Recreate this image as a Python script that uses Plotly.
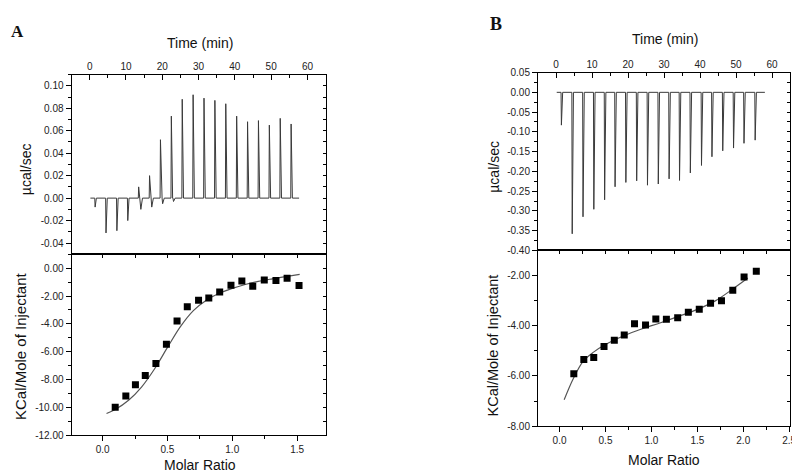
import plotly.graph_objects as go

# ---------------- Data: panel A ----------------
A_inj_time = [1.4, 4.4, 7.4, 10.4, 13.4, 16.4, 19.4, 22.4, 25.4, 28.4, 31.4, 34.4, 37.4, 40.4, 43.4, 46.4, 49.4, 52.4, 55.4]
A_inj_peak = [-0.008, -0.031, -0.029, -0.020, 0.010, 0.020, 0.052, 0.073, 0.088, 0.092, 0.089, 0.087, 0.084, 0.073, 0.068, 0.069, 0.065, 0.071, 0.066]
A_inj_dip = [0, 0, 0, 0, -0.010, -0.008, -0.005, -0.003, 0, 0, 0, 0, 0, 0, 0, 0, 0, 0, 0]
A_base_start, A_base_end = 0.2, 57.7

A_ratio = [0.097, 0.179, 0.253, 0.329, 0.411, 0.492, 0.574, 0.653, 0.740, 0.819, 0.903, 0.990, 1.074, 1.158, 1.247, 1.337, 1.423, 1.515]
A_heat = [-10.0, -9.2, -8.38, -7.72, -6.85, -5.48, -3.79, -2.78, -2.31, -2.14, -1.72, -1.22, -0.92, -1.29, -0.85, -0.89, -0.73, -1.25]
A_fit_x = [0.03, 0.1, 0.2, 0.3, 0.4, 0.5, 0.6, 0.7, 0.8, 0.9, 1.0, 1.1, 1.2, 1.3, 1.4, 1.52]
A_fit_y = [-10.45, -10.15, -9.5, -8.55, -7.25, -5.7, -4.2, -3.05, -2.3, -1.8, -1.45, -1.17, -0.95, -0.78, -0.63, -0.45]

# ---------------- Data: panel B ----------------
B_inj_time = [1.4, 4.4, 7.4, 10.4, 13.4, 16.3, 19.3, 22.3, 25.3, 28.3, 31.3, 34.2, 37.2, 40.3, 43.2, 46.2, 49.2, 52.1, 55.2]
B_inj_peak = [-0.083, -0.358, -0.315, -0.296, -0.272, -0.239, -0.228, -0.224, -0.235, -0.232, -0.219, -0.223, -0.204, -0.185, -0.163, -0.148, -0.141, -0.129, -0.121]
B_base_start, B_base_end = 0.2, 58.0

B_ratio = [0.155, 0.264, 0.372, 0.484, 0.596, 0.704, 0.816, 0.936, 1.048, 1.163, 1.286, 1.402, 1.521, 1.644, 1.763, 1.886, 2.009, 2.142]
B_heat = [-5.91, -5.34, -5.26, -4.83, -4.58, -4.37, -3.92, -3.97, -3.73, -3.74, -3.68, -3.46, -3.34, -3.10, -3.01, -2.59, -2.06, -1.83]
B_fit_x = [0.05, 0.15, 0.26, 0.37, 0.5, 0.7, 0.9, 1.1, 1.3, 1.5, 1.7, 1.9, 2.05]
B_fit_y = [-6.95, -6.1, -5.4, -5.05, -4.75, -4.4, -4.12, -3.88, -3.62, -3.35, -3.0, -2.5, -2.1]

# ---------------- Tick labels ----------------
time_ticks = [0, 10, 20, 30, 40, 50, 60]
A_up_vals = [-0.04, -0.02, 0.0, 0.02, 0.04, 0.06, 0.08, 0.10]
A_up_text = ["-0.04", "-0.02", "0.00", "0.02", "0.04", "0.06", "0.08", "0.10"]
A_lo_vals = [-12, -10, -8, -6, -4, -2, 0]
A_lo_text = ["-12.00", "-10.00", "-8.00", "-6.00", "-4.00", "-2.00", "0.00"]
A_ratio_vals = [0.0, 0.5, 1.0, 1.5]
A_ratio_text = ["0.0", "0.5", "1.0", "1.5"]
B_up_vals = [-0.40, -0.35, -0.30, -0.25, -0.20, -0.15, -0.10, -0.05, 0.0, 0.05]
B_up_text = ["-0.40", "-0.35", "-0.30", "-0.25", "-0.20", "-0.15", "-0.10", "-0.05", "0.00", "0.05"]
B_lo_vals = [-8, -6, -4, -2]
B_lo_text = ["-8.00", "-6.00", "-4.00", "-2.00"]
B_ratio_vals = [0.0, 0.5, 1.0, 1.5, 2.0, 2.5]
B_ratio_text = ["0.0", "0.5", "1.0", "1.5", "2.0", "2.5"]

# spike shape (style constants, minutes)
RISE, FALL = 0.1, 0.45


def thermogram(times, peaks, dips, t0, t1):
    xs, ys = [t0], [0.0]
    for t, p, d in zip(times, peaks, dips):
        xs += [t, t + RISE, t + FALL]
        ys += [0.0, p, 0.0]
        if d:
            xs += [t + FALL + 0.1, t + FALL + 0.25, t + FALL + 0.7]
            ys += [0.0, d, 0.0]
    xs.append(t1)
    ys.append(0.0)
    return xs, ys


FONT = "Liberation Sans, Arial, sans-serif"
LINE = "#3a3a3a"
TICKFONT = dict(family=FONT, size=10, color="#222")

fig = go.Figure()

ax, ay = thermogram(A_inj_time, A_inj_peak, A_inj_dip, A_base_start, A_base_end)
fig.add_trace(go.Scatter(x=ax, y=ay, mode="lines", line=dict(color=LINE, width=1),
                         xaxis="x", yaxis="y", showlegend=False))
fig.add_trace(go.Scatter(x=A_fit_x, y=A_fit_y, mode="lines", line=dict(color="#555", width=1.2, shape="spline"),
                         xaxis="x2", yaxis="y2", showlegend=False))
fig.add_trace(go.Scatter(x=A_ratio, y=A_heat, mode="markers",
                         marker=dict(symbol="square", size=7, color="black"),
                         xaxis="x2", yaxis="y2", showlegend=False))

bx, by = thermogram(B_inj_time, B_inj_peak, [0] * len(B_inj_time), B_base_start, B_base_end)
fig.add_trace(go.Scatter(x=bx, y=by, mode="lines", line=dict(color=LINE, width=1),
                         xaxis="x4", yaxis="y5", showlegend=False))
fig.add_trace(go.Scatter(x=B_fit_x, y=B_fit_y, mode="lines", line=dict(color="#555", width=1.2, shape="spline"),
                         xaxis="x5", yaxis="y6", showlegend=False))
fig.add_trace(go.Scatter(x=B_ratio, y=B_heat, mode="markers",
                         marker=dict(symbol="square", size=7, color="black"),
                         xaxis="x5", yaxis="y6", showlegend=False))

# empty traces so that the mirror-tick overlay axes are drawn
for xa, ya in [("x", "y3"), ("x2", "y4"), ("x3", "y2"), ("x4", "y7"), ("x5", "y8"), ("x6", "y6")]:
    fig.add_trace(go.Scatter(x=[None], y=[None], mode="lines", xaxis=xa, yaxis=ya,
                             showlegend=False, hoverinfo="skip"))

W, H = 800, 476
# pixel frame positions
A_left, A_right, A_top, A_mid, A_bot = 64, 320, 63, 247, 432
B_left, B_right, B_top, B_mid, B_bot = 534, 788, 61, 243, 423


def px(x):
    return x / W


def py(y):
    return 1 - y / H


base = dict(showgrid=False, zeroline=False, showline=True, linecolor="black", linewidth=1,
            tickcolor="black", tickfont=TICKFONT, ticklen=5, tickwidth=1)


def main_y(rng, vals, text, anchor, dom, minor_dtick):
    return dict(base, range=rng, tickmode="array", tickvals=vals, ticktext=text, ticks="outside",
                anchor=anchor, domain=dom, mirror=True,
                minor=dict(ticks="outside", ticklen=3, tickcolor="black", dtick=minor_dtick, tick0=0))


def mirror_y(rng, overlay, anchor, minor_dtick):
    return dict(range=rng, overlaying=overlay, side="right", anchor=anchor, showgrid=False, zeroline=False,
                showline=False, showticklabels=False, ticks="inside", ticklen=3, tickcolor="black",
                tickmode="linear", tick0=0, dtick=minor_dtick)


def time_x(anchor, dom):
    return dict(base, range=[-5, 65], tickmode="array", tickvals=time_ticks, ticktext=[str(v) for v in time_ticks],
                ticks="inside", side="top", anchor=anchor, domain=dom, mirror=True,
                minor=dict(ticks="inside", ticklen=3, tickcolor="black", dtick=5, tick0=0))


def ratio_x(rng, vals, text, anchor, dom):
    return dict(base, range=rng, tickmode="array", tickvals=vals, ticktext=text, ticks="outside",
                side="bottom", anchor=anchor, domain=dom, mirror=True,
                minor=dict(ticks="outside", ticklen=3, tickcolor="black", dtick=0.25, tick0=0))


def mirror_x(rng, overlay, anchor):
    return dict(range=rng, overlaying=overlay, side="top", anchor=anchor, showgrid=False, zeroline=False,
                showline=False, showticklabels=False, ticks="inside", ticklen=4, tickcolor="black",
                tickmode="linear", tick0=0, dtick=0.25)


A_xdom = [px(A_left), px(A_right)]
B_xdom = [px(B_left), px(B_right)]
A_up_rng = [-0.05, 0.11]
A_lo_rng = [-12, 1]
A_rat_rng = [-0.24, 1.72]
B_up_rng = [-0.40, 0.05]
B_lo_rng = [-8, -1]
B_rat_rng = [-0.235, 2.51]

fig.update_layout(
    width=W, height=H, margin=dict(l=0, r=0, t=0, b=0),
    paper_bgcolor="white", plot_bgcolor="white",
    xaxis=time_x("y", A_xdom),
    yaxis=main_y(A_up_rng, A_up_vals, A_up_text, "x", [py(A_mid), py(A_top)], 0.01),
    xaxis2=ratio_x(A_rat_rng, A_ratio_vals, A_ratio_text, "y2", A_xdom),
    yaxis2=main_y(A_lo_rng, A_lo_vals, A_lo_text, "x2", [py(A_bot), py(A_mid)], 1),
    yaxis3=mirror_y(A_up_rng, "y", "x", 0.01),
    yaxis4=mirror_y(A_lo_rng, "y2", "x2", 1),
    xaxis3=mirror_x(A_rat_rng, "x2", "y2"),
    xaxis4=time_x("y5", B_xdom),
    yaxis5=main_y(B_up_rng, B_up_vals, B_up_text, "x4", [py(B_mid), py(B_top)], 0.025),
    xaxis5=ratio_x(B_rat_rng, B_ratio_vals, B_ratio_text, "y6", B_xdom),
    yaxis6=main_y(B_lo_rng, B_lo_vals, B_lo_text, "x5", [py(B_bot), py(B_mid)], 1),
    yaxis7=mirror_y(B_up_rng, "y5", "x4", 0.025),
    yaxis8=mirror_y(B_lo_rng, "y6", "x5", 1),
    xaxis6=mirror_x(B_rat_rng, "x5", "y6"),
)


def label(text, x, y, size, angle=0, family=FONT, bold=False):
    fig.add_annotation(text=f"<b>{text}</b>" if bold else text, x=px(x), y=py(y), xref="paper", yref="paper",
                       showarrow=False, textangle=angle, xanchor="center", yanchor="middle",
                       font=dict(family=family, size=size, color="#111"))


label("Time (min)", 193, 31, 14)
label("Time (min)", 662, 27, 14)
label("µcal/sec", 18, 160, 14, -90)
label("µcal/sec", 490, 157, 14, -90)
label("KCal/Mole of Injectant", 12, 341, 15, -90)
label("KCal/Mole of Injectant", 489, 340, 14.5, -90)
label("Molar Ratio", 193, 463, 14)
label("Molar Ratio", 661, 458, 14)
label("A", 10, 19, 17, family="Liberation Serif, Times New Roman, serif", bold=True)
label("B", 492, 11, 18, family="Liberation Serif, Times New Roman, serif", bold=True)

fig.write_html("out.html")
